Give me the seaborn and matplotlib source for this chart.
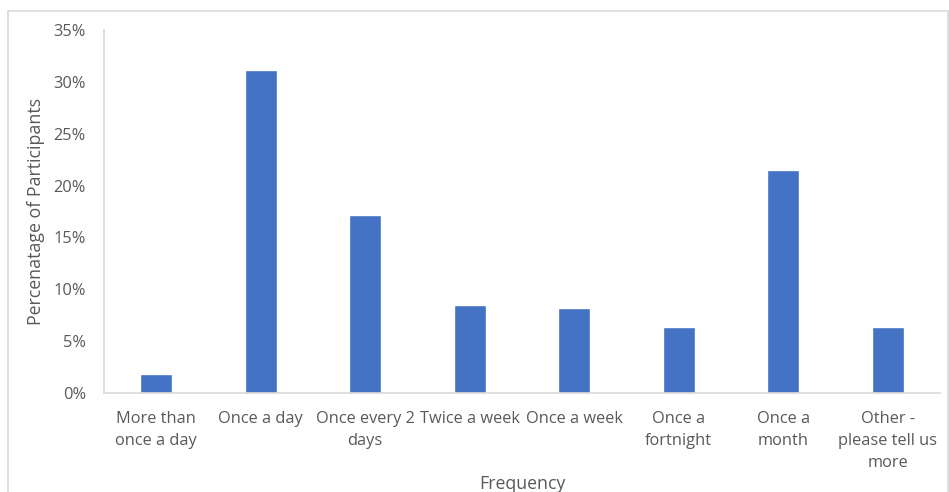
import matplotlib
matplotlib.use("Agg")
import matplotlib.pyplot as plt
from matplotlib.patches import Rectangle
from matplotlib.ticker import PercentFormatter
import seaborn as sns
import pandas as pd

# Survey responses: how often participants do the activity
categories = [
    "More than\nonce a day",
    "Once a day",
    "Once every 2\ndays",
    "Twice a week",
    "Once a week",
    "Once a\nfortnight",
    "Once a\nmonth",
    "Other -\nplease tell us\nmore",
]
percentages = [1.8, 31.1, 17.2, 8.5, 8.2, 6.4, 21.5, 6.4]
y_ticks = [0, 5, 10, 15, 20, 25, 30, 35]

df = pd.DataFrame({"Frequency": categories, "Percentage": percentages})

sns.set_theme(style="white")
plt.rcParams["font.family"] = ["Open Sans", "DejaVu Sans"]

text_color = "#595959"
line_color = "#d9d9d9"
bar_color = "#4472c4"

fig = plt.figure(figsize=(9.49, 4.92), dpi=100)
ax = fig.add_axes([104 / 949, 1 - 393 / 492, 836 / 949, 363 / 492])

sns.barplot(data=df, x="Frequency", y="Percentage", color=bar_color,
            width=0.31, saturation=1, ax=ax)

ax.set_ylim(0, 35)
ax.set_xlim(-0.5, len(categories) - 0.5)
ax.set_yticks(y_ticks)
ax.yaxis.set_major_formatter(PercentFormatter(decimals=0))

ax.tick_params(axis="both", length=0, labelsize=11.8, colors=text_color)
ax.tick_params(axis="y", pad=13)
ax.tick_params(axis="x", pad=13)
for lbl in ax.get_xticklabels():
    lbl.set_linespacing(1.5)

ax.set_xlabel("Frequency", fontsize=12.8, color=text_color)
ax.xaxis.set_label_coords(0.5, -0.225)
ax.set_ylabel("Percenatage of Participants", fontsize=12.8, color=text_color,
              labelpad=6)

for side in ("top", "right"):
    ax.spines[side].set_visible(False)
for side in ("left", "bottom"):
    ax.spines[side].set_color(line_color)
    ax.spines[side].set_linewidth(1.2)

# Light chart-area border
fig.patches.append(Rectangle((8 / 949, -0.2), 940 / 949, 1.2 - 10.5 / 492,
                             transform=fig.transFigure, fill=False,
                             edgecolor=line_color, linewidth=1.2))

fig.savefig("out.png", dpi=100)
